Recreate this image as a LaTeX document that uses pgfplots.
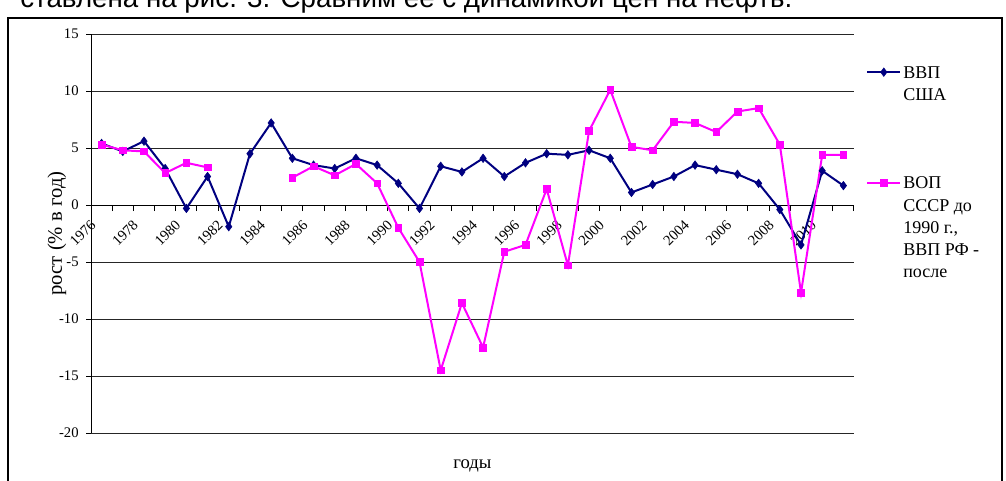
\documentclass[border=0pt]{standalone}
\usepackage{fontspec}
\setmainfont{Liberation Serif}
\newfontfamily\arial{Liberation Sans}
\usepackage{pgfplots}
\pgfplotsset{compat=1.18}
\usepackage{pgfplotstable}
\definecolor{usnavy}{HTML}{000080}
\definecolor{rumag}{HTML}{FF00FF}

\pgfplotstableread{
year us ru
1976 5.4 5.3
1977 4.7 4.8
1978 5.6 4.7
1979 3.2 2.8
1980 -0.3 3.7
1981 2.5 3.3
1982 -1.9 nan
1983 4.5 nan
1984 7.2 nan
1985 4.1 2.4
1986 3.5 3.4
1987 3.2 2.6
1988 4.1 3.6
1989 3.5 1.9
1990 1.9 -2.0
1991 -0.3 -5.0
1992 3.4 -14.5
1993 2.9 -8.6
1994 4.1 -12.5
1995 2.5 -4.1
1996 3.7 -3.5
1997 4.5 1.4
1998 4.4 -5.3
1999 4.8 6.5
2000 4.1 10.1
2001 1.1 5.1
2002 1.8 4.8
2003 2.5 7.3
2004 3.5 7.2
2005 3.1 6.4
2006 2.7 8.2
2007 1.9 8.5
2008 -0.4 5.3
2009 -3.5 -7.7
2010 3.0 4.4
2011 1.7 4.4
}\data

\begin{document}
\begin{tikzpicture}[x=1pt,y=1pt]
\useasboundingbox (0,0) rectangle (754.5,360);
\clip (0,0) rectangle (754.5,360);
\draw[line width=1.5pt] (6,346.5) rectangle (751.5,-20);
\node[anchor=base west, font=\arial\fontsize{20.8}{24}\selectfont, inner sep=0pt] at (15,354.4) {ставлена на рис. 3. Сравним ее с динамикой цен на нефть.};
\begin{axis}[
  at={(68.25pt,35.25pt)}, anchor=south west, scale only axis,
  width=572.25pt, height=299.25pt,
  xmin=1975.5, xmax=2011.5, ymin=-20, ymax=15,
  axis x line=middle, axis y line=left,
  axis line style={-, line width=0.75pt, black},
  hide obscured x ticks=false, hide obscured y ticks=false,
  ytick={-20,-15,...,15},
  xtick={1976,1978,...,2010},
  minor xtick={1975.5,1976.5,...,2011.5},
  major x tick style={draw=none},
  minor x tick style={line width=0.75pt, black},
  major tick length=3.75pt, minor tick length=4.5pt,
  tick align=outside,
  ytick style={line width=0.75pt, black},
  ymajorgrids, grid style={black!85, line width=0.75pt},
  /pgf/number format/assume math mode=true,
  /pgf/number format/1000 sep={},
  yticklabel style={font=\fontsize{11}{13}\selectfont, xshift=-2pt},
  xticklabel style={xshift=-9pt, yshift=-2pt, rotate=45, anchor=north east, font=\fontsize{11}{13}\selectfont},
  xlabel={годы}, ylabel={рост (\% в год)},
  every axis x label/.style={at={(axis description cs:0.5,-0.082)}, anchor=center, font=\fontsize{14}{16}\selectfont},
  every axis y label/.style={at={(axis description cs:-0.0446,0.5)}, anchor=center, rotate=90, font=\fontsize{15.5}{17}\selectfont},
  unbounded coords=jump,
  legend image code/.code={\draw[mark repeat=2,mark phase=2,#1] plot coordinates {(0pt,0pt) (12.4pt,0pt) (24.8pt,0pt)};},
  legend style={at={(1.0157,0.9248)}, anchor=north west, draw=none, fill=none,
    font=\fontsize{13.5}{16.7}\selectfont, row sep=53pt, inner sep=0pt,
    nodes={align=left, inner sep=1.5pt}},
  legend cell align=left,
]
\addplot[color=usnavy, line width=1.5pt, mark=diamond*, mark size=3.2pt, mark options={line width=0.4pt},
  legend image post style={yshift=9.1pt}]
  table[x=year,y=us]{\data};
\addlegendentry{ВВП\\США}
\addplot[color=rumag, line width=1.5pt, mark=square*, mark size=2.5pt, mark options={line width=0.4pt},
  legend image post style={yshift=34.2pt}]
  table[x=year,y=ru]{\data};
\addlegendentry{ВОП\\СССР до\\1990 г.,\\ВВП РФ -\\после}
\end{axis}
\end{tikzpicture}
\end{document}
